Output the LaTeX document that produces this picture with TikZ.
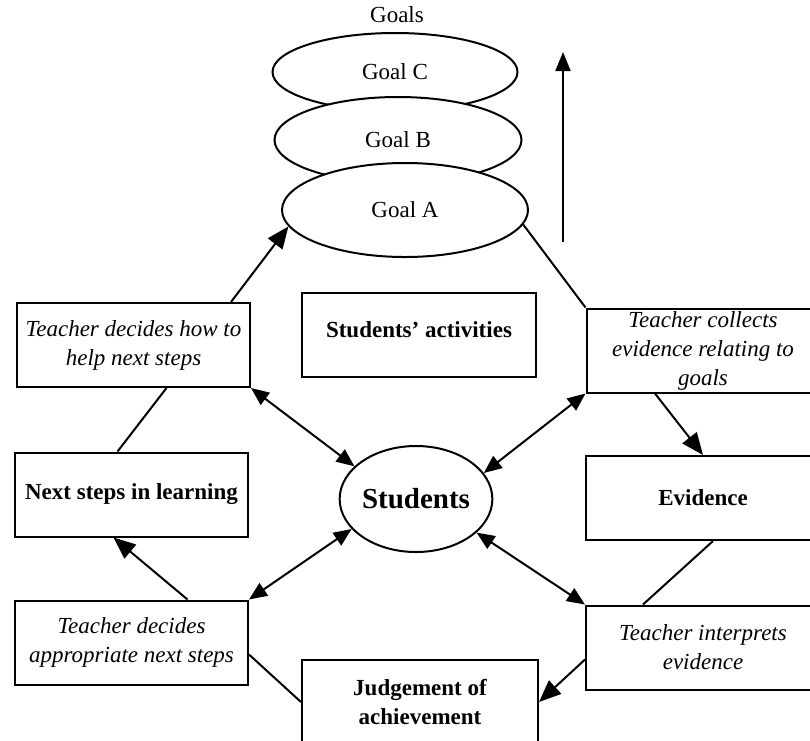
\documentclass[tikz,border=0pt]{standalone}
\usepackage{fontspec}
\setmainfont{Liberation Serif}
\usetikzlibrary{arrows.meta, shapes.geometric, calc}

\begin{document}
\begin{tikzpicture}[
                x=1pt, y=-1pt,
                line join=miter,
                font=\fontsize{23}{29}\selectfont,
                goalnode/.style={shape=ellipse, draw=black, fill=white, line width=2pt, inner sep=0pt},
                boxnode/.style={shape=rectangle, draw=black, fill=white, line width=2pt, align=center,
                                minimum width=233pt, minimum height=84pt, inner sep=2pt},
                teachernode/.style={boxnode, font=\fontsize{23}{29}\selectfont\itshape},
                stagenode/.style={boxnode, font=\fontsize{23}{29}\selectfont\bfseries},
                plainline/.style={line width=2pt},
                onearrow/.style={plainline, -{Triangle[length=22pt, width=18pt]}},
                dblarrow/.style={plainline, {Triangle[length=18pt, width=15pt]}-{Triangle[length=18pt, width=15pt]}}
                ]
                \useasboundingbox (0,0) rectangle (810,740);
                \clip (0,0) rectangle (810,740);

                %% Goals
                \node (goals) at (397,15) {Goals};
                \node[goalnode, minimum width=245pt, minimum height=78pt] (goalC) at (395,72) {Goal C};
                \node[goalnode, minimum width=247pt, minimum height=86pt] (goalB) at (398,140) {Goal B};
                \node[goalnode, minimum width=246pt, minimum height=94pt] (goalA) at (405,210) {Goal A};

                \coordinate (upbottom) at (563,242);
                \coordinate (uptop) at (563,52);
                \draw[plainline, -{Triangle[length=19pt, width=15pt]}] (upbottom) -- (uptop);

                %% Boxes
                \node[stagenode, minimum width=234pt, text depth=10pt] (activities) at (419,335) {Students’ activities};
                \node[teachernode] (helpnext) at (133.5,345) {Teacher decides how to\\help next steps};
                \node[teachernode] (collects) at (703,350.5) {Teacher collects\\evidence relating to\\goals};
                \node[stagenode] (nextsteps) at (131.5,494.5) {Next steps in learning};
                \node[goalnode, minimum width=141pt, minimum height=106pt,
                      font=\fontsize{29}{34}\selectfont\bfseries] (students) at (416,499) {Students};
                \node[stagenode, minimum width=234pt] (evidence) at (703,498) {Evidence};
                \node[teachernode] (appropriate) at (131.5,642.5) {Teacher decides\\appropriate next steps};
                \node[teachernode, minimum width=234pt] (interprets) at (703,647.5) {Teacher interprets\\evidence};
                \node[stagenode, minimum width=236pt] (judgement) at (420,702) {Judgement of\\achievement};

                %% Cycle
                \draw[onearrow] ($(helpnext.north east)+(-20,0)$) -- (goalA.188);
                \draw[plainline] (goalA.-7) -- (collects.north west);
                \draw[onearrow] ($(collects.south)+(-48,0)$) -- (evidence.north);
                \draw[plainline] ($(evidence.south)+(10,0)$) -- ($(interprets.north)+(-60,0)$);
                \draw[onearrow] ($(interprets.west)+(0,12)$) -- (judgement.east);
                \draw[plainline] ($(appropriate.east)+(0,12)$) -- (judgement.west);
                \draw[onearrow] ($(appropriate.north)+(56,0)$) -- ($(nextsteps.south)+(-18,0)$);
                \draw[plainline] ($(nextsteps.north)+(-14,0)$) -- ($(helpnext.south)+(33,0)$);

                % Students in the middle
                \foreach \corner/\angle in {helpnext.south east/152, collects.south west/21,
                                            interprets.north west/-29, appropriate.north east/205} {
                    \draw[dblarrow] (\corner) -- (students.\angle);
                }
\end{tikzpicture}
\end{document}
